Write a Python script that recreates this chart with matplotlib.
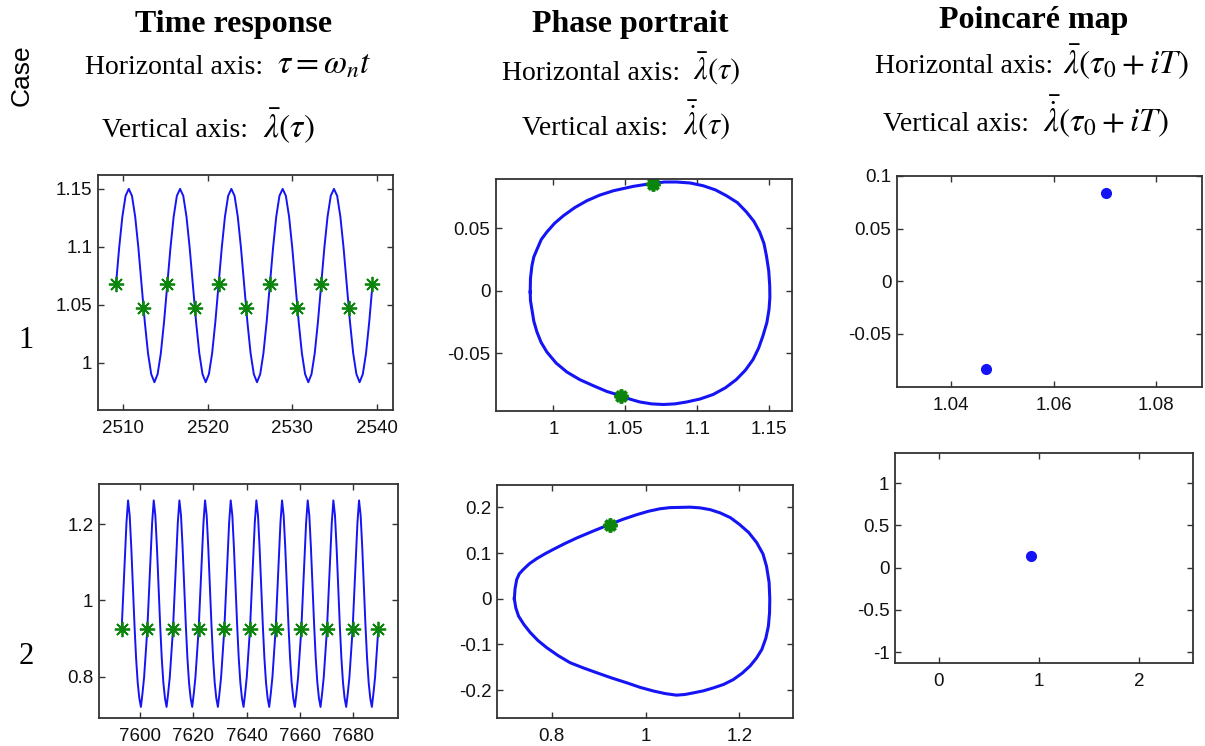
"""
Limit-cycle response for two cases: time response, phase portrait and
Poincaré map (period-2 sampling in case 1, period-1 in case 2).
"""

import numpy as np
import matplotlib
import matplotlib.pyplot as plt
from matplotlib.ticker import FuncFormatter

matplotlib.use('Agg')
plt.rcParams['axes.unicode_minus'] = False
plt.rcParams['mathtext.fontset'] = 'stix'

W, H = 1205, 746

# ── Data ──────────────────────────────────────────────────────────────────────
# Case 1 – time response, 16 samples per period from the first star to the last
T1_START, T1_END = 2509.17, 2539.47
LAM1 = [
    1.067, 1.099, 1.126, 1.144, 1.150, 1.144, 1.126, 1.099, 1.067, 1.035, 1.008, 0.990, 0.983, 0.990, 1.008, 1.035,
    1.067, 1.099, 1.126, 1.144, 1.150, 1.144, 1.126, 1.099, 1.067, 1.035, 1.008, 0.990, 0.983, 0.990, 1.008, 1.035,
    1.067, 1.099, 1.126, 1.144, 1.150, 1.144, 1.126, 1.099, 1.067, 1.035, 1.008, 0.990, 0.983, 0.990, 1.008, 1.035,
    1.067, 1.099, 1.126, 1.144, 1.150, 1.144, 1.126, 1.099, 1.067, 1.035, 1.008, 0.990, 0.983, 0.990, 1.008, 1.035,
    1.067, 1.099, 1.126, 1.144, 1.150, 1.144, 1.126, 1.099, 1.067, 1.035, 1.008, 0.990, 0.983, 0.990, 1.008, 1.035,
    1.067,
]
STAR1_T = [2509.17, 2512.42, 2515.23, 2518.48, 2521.29, 2524.54,
           2527.35, 2530.60, 2533.41, 2536.66, 2539.47]
STAR1_Y = [1.068, 1.047, 1.068, 1.047, 1.068, 1.047,
           1.068, 1.047, 1.068, 1.047, 1.068]

# Case 2 – time response, 16 samples per period
T2_START, T2_END = 7593.1, 7689.4
LAM2 = [
    0.924, 1.017, 1.115, 1.203, 1.262, 1.223, 1.139, 1.037, 0.936, 0.849, 0.785, 0.744, 0.721, 0.757, 0.799, 0.860,
    0.924, 1.017, 1.115, 1.203, 1.262, 1.223, 1.139, 1.037, 0.936, 0.849, 0.785, 0.744, 0.721, 0.757, 0.799, 0.860,
    0.924, 1.017, 1.115, 1.203, 1.262, 1.223, 1.139, 1.037, 0.936, 0.849, 0.785, 0.744, 0.721, 0.757, 0.799, 0.860,
    0.924, 1.017, 1.115, 1.203, 1.262, 1.223, 1.139, 1.037, 0.936, 0.849, 0.785, 0.744, 0.721, 0.757, 0.799, 0.860,
    0.924, 1.017, 1.115, 1.203, 1.262, 1.223, 1.139, 1.037, 0.936, 0.849, 0.785, 0.744, 0.721, 0.757, 0.799, 0.860,
    0.924, 1.017, 1.115, 1.203, 1.262, 1.223, 1.139, 1.037, 0.936, 0.849, 0.785, 0.744, 0.721, 0.757, 0.799, 0.860,
    0.924, 1.017, 1.115, 1.203, 1.262, 1.223, 1.139, 1.037, 0.936, 0.849, 0.785, 0.744, 0.721, 0.757, 0.799, 0.860,
    0.924, 1.017, 1.115, 1.203, 1.262, 1.223, 1.139, 1.037, 0.936, 0.849, 0.785, 0.744, 0.721, 0.757, 0.799, 0.860,
    0.924, 1.017, 1.115, 1.203, 1.262, 1.223, 1.139, 1.037, 0.936, 0.849, 0.785, 0.744, 0.721, 0.757, 0.799, 0.860,
    0.924, 1.017, 1.115, 1.203, 1.262, 1.223, 1.139, 1.037, 0.936, 0.849, 0.785, 0.744, 0.721, 0.757, 0.799, 0.860,
    0.924,
]
STAR2_T = [7593.1, 7602.7, 7612.4, 7622.0, 7631.6, 7641.3,
           7650.9, 7660.5, 7670.1, 7679.8, 7689.4]
STAR2_Y = [0.924] * 11

# Phase portraits (lambda, d lambda / d tau), closed loops
PH1_X = [0.9838, 0.9840, 0.985, 0.9863, 0.9885, 0.9915, 0.9954, 1.0008, 1.0069, 1.0148,
         1.0232, 1.0322, 1.0417, 1.0555, 1.0694, 1.0775, 1.0857, 1.0952, 1.1042, 1.1127,
         1.1204, 1.1280, 1.1343, 1.1395, 1.1435, 1.1465, 1.1482, 1.1498, 1.1505, 1.1506,
         1.150, 1.1485, 1.1458, 1.1428, 1.1389, 1.1336, 1.1273, 1.1197, 1.1111, 1.1020,
         1.0926, 1.0845, 1.0764, 1.0683, 1.0602, 1.0535, 1.047, 1.0372, 1.0278, 1.0183,
         1.0093, 1.0018, 0.9954, 0.9914, 0.9885, 0.9863, 0.985, 0.9840, 0.9838]
PH1_Y = [-0.001, 0.010, 0.020, 0.027, 0.033, 0.041, 0.047, 0.054, 0.060, 0.0665,
         0.072, 0.0765, 0.080, 0.0835, 0.086, 0.087, 0.087, 0.0862, 0.084, 0.0807,
         0.076, 0.0705, 0.063, 0.0555, 0.047, 0.0378, 0.028, 0.016, 0.004, -0.0055,
         -0.015, -0.0255, -0.036, -0.0458, -0.055, -0.0635, -0.071, -0.0776, -0.083, -0.0866,
         -0.089, -0.0905, -0.091, -0.0905, -0.089, -0.0868, -0.084, -0.0806, -0.076, -0.0711,
         -0.065, -0.0578, -0.049, -0.0413, -0.033, -0.0243, -0.015, -0.008, -0.001]
PH1_STAR_X = [1.0694, 1.047]
PH1_STAR_Y = [0.0855, -0.0845]

PH2_X = [0.720, 0.7215, 0.725, 0.7305, 0.739, 0.7525, 0.768, 0.7855, 0.803, 0.828,
         0.853, 0.889, 0.924, 0.952, 0.981, 1.006, 1.031, 1.052, 1.074, 1.095,
         1.116, 1.138, 1.159, 1.181, 1.200, 1.220, 1.237, 1.2505, 1.258, 1.2635,
         1.265, 1.2645, 1.262, 1.2565, 1.248, 1.2365, 1.223, 1.206, 1.187, 1.1665,
         1.145, 1.1235, 1.102, 1.084, 1.066, 1.0415, 1.017, 0.9885, 0.960, 0.928,
         0.896, 0.8675, 0.839, 0.8135, 0.789, 0.7705, 0.754, 0.7405, 0.729, 0.723, 0.720]
PH2_Y = [0.000, 0.022, 0.042, 0.0545, 0.064, 0.077, 0.088, 0.0985, 0.108, 0.121,
         0.133, 0.1485, 0.163, 0.174, 0.184, 0.1915, 0.197, 0.1995, 0.200, 0.2005,
         0.199, 0.195, 0.188, 0.1775, 0.163, 0.145, 0.123, 0.098, 0.071, 0.036,
         0.000, -0.030, -0.060, -0.0865, -0.111, -0.130, -0.147, -0.163, -0.177, -0.1875,
         -0.195, -0.2015, -0.206, -0.2095, -0.211, -0.2075, -0.202, -0.194, -0.184, -0.1735,
         -0.162, -0.1515, -0.140, -0.1245, -0.107, -0.0915, -0.074, -0.0565, -0.038, -0.0195, 0.000]
PH2_STAR_X = [0.924]
PH2_STAR_Y = [0.162]

# Poincaré maps
PM1_X = [1.0468, 1.0703]
PM1_Y = [-0.0837, 0.0836]
PM2_X = [0.92]
PM2_Y = [0.14]

# ── Styles ────────────────────────────────────────────────────────────────────
BLUE  = '#1414f5'
GREEN = '#0b850b'
SERIF = 'Liberation Serif'
SANS  = 'Liberation Sans'

def px_rect(l, t, r, b):
    return [l / W, 1 - b / H, (r - l) / W, (b - t) / H]

fig = plt.figure(figsize=(W / 100, H / 100), dpi=100)
fig.patch.set_facecolor('white')

def style(ax, xlim, ylim, xticks, yticks):
    ax.set_xlim(*xlim)
    ax.set_ylim(*ylim)
    ax.set_xticks(xticks)
    ax.set_yticks(yticks)
    fmt = FuncFormatter(lambda v, p: f'{v:g}')
    ax.xaxis.set_major_formatter(fmt)
    ax.yaxis.set_major_formatter(fmt)
    ax.tick_params(direction='in', top=True, right=True, length=4, width=1,
                   color='#333333', labelsize=13.5, labelcolor='#111111')
    ax.tick_params(axis='x', pad=7)
    ax.tick_params(axis='y', pad=4)
    for lab in ax.get_xticklabels() + ax.get_yticklabels():
        lab.set_fontfamily(SANS)
    for s in ax.spines.values():
        s.set_linewidth(1.3)
        s.set_color('#333333')

# ── Case 1 ────────────────────────────────────────────────────────────────────
ax = fig.add_axes(px_rect(98, 175, 393, 410))
t1 = np.linspace(T1_START, T1_END, len(LAM1))
ax.plot(t1, LAM1, color=BLUE, lw=1.4)
ax.plot(STAR1_T, STAR1_Y, ls='none', marker=(8, 2, 0), ms=11, mew=1.3, color=GREEN)
style(ax, (2507.05, 2541.9), (0.959, 1.162), [2510, 2520, 2530, 2540], [1, 1.05, 1.1, 1.15])

ax = fig.add_axes(px_rect(496, 179, 792, 411))
ax.plot(PH1_X, PH1_Y, color=BLUE, lw=2.2, solid_joinstyle='round')
ax.plot(PH1_STAR_X, PH1_STAR_Y, ls='none', marker=(8, 2, 0), ms=10, mew=2.6, color=GREEN)
style(ax, (0.960, 1.166), (-0.0962, 0.0894), [1, 1.05, 1.1, 1.15], [-0.05, 0, 0.05])

ax = fig.add_axes(px_rect(897, 176, 1202, 387))
ax.plot(PM1_X, PM1_Y, ls='none', marker='o', ms=7, color=BLUE)
style(ax, (1.0294, 1.089), (-0.1005, 0.1), [1.04, 1.06, 1.08], [-0.05, 0, 0.05, 0.1])

# ── Case 2 ────────────────────────────────────────────────────────────────────
ax = fig.add_axes(px_rect(99, 484, 398, 718))
t2 = np.linspace(T2_START, T2_END, len(LAM2))
ax.plot(t2, LAM2, color=BLUE, lw=1.4)
ax.plot(STAR2_T, STAR2_Y, ls='none', marker=(8, 2, 0), ms=11, mew=1.3, color=GREEN)
style(ax, (7584.6, 7696.8), (0.692, 1.305), [7600, 7620, 7640, 7660, 7680], [0.8, 1, 1.2])

ax = fig.add_axes(px_rect(497, 485, 793, 718))
ax.plot(PH2_X, PH2_Y, color=BLUE, lw=2.2, solid_joinstyle='round')
ax.plot(PH2_STAR_X, PH2_STAR_Y, ls='none', marker=(8, 2, 0), ms=10, mew=2.6, color=GREEN)
style(ax, (0.683, 1.3145), (-0.261, 0.249), [0.8, 1, 1.2], [-0.2, -0.1, 0, 0.1, 0.2])

ax = fig.add_axes(px_rect(895, 453, 1193, 663))
ax.plot(PM2_X, PM2_Y, ls='none', marker='o', ms=7, color=BLUE)
style(ax, (-0.44, 2.54), (-1.13, 1.355), [0, 1, 2], [-1, -0.5, 0, 0.5, 1])

# ── Headers ───────────────────────────────────────────────────────────────────
def ftext(x, y, s, **kw):
    fig.text(x / W, 1 - y / H, s, **kw)

def axis_line(x_txt, x_math, y, txt, math, msize=24):
    ftext(x_txt, y, txt, ha='left', va='baseline', fontfamily=SERIF, fontsize=20)
    ftext(x_math, y, math, ha='left', va='baseline', fontfamily=SERIF, fontsize=msize)

bold = dict(ha='center', va='baseline', fontfamily=SERIF, fontsize=23, fontweight='bold')
ftext(234, 32, 'Time response', **bold)
axis_line(85, 277, 74, 'Horizontal axis:', r'$\tau=\omega_n t$')
axis_line(102, 263, 137, 'Vertical axis:', r'$\bar{\lambda}(\tau)$')

ftext(630, 32, 'Phase portrait', **bold)
axis_line(502, 693, 80, 'Horizontal axis:', r'$\bar{\lambda}(\tau)$', 22)
axis_line(522, 683, 135, 'Vertical axis:', r'$\bar{\dot{\lambda}}(\tau)$', 22)

ftext(1034, 28, 'Poincaré map', **bold)
axis_line(875, 1063, 73, 'Horizontal axis:', r'$\bar{\lambda}(\tau_0+iT)$')
axis_line(883, 1043, 131, 'Vertical axis:', r'$\bar{\dot{\lambda}}(\tau_0+iT)$')

ftext(22, 75, 'Case', fontsize=19, rotation=90, ha='center', va='center',
      fontfamily=SANS, color='black')
ftext(26, 341, '1', fontsize=22, ha='center', va='center', fontfamily=SERIF)
ftext(26, 657, '2', fontsize=22, ha='center', va='center', fontfamily=SERIF)

fig.savefig('out.png', dpi=100, facecolor='white')
